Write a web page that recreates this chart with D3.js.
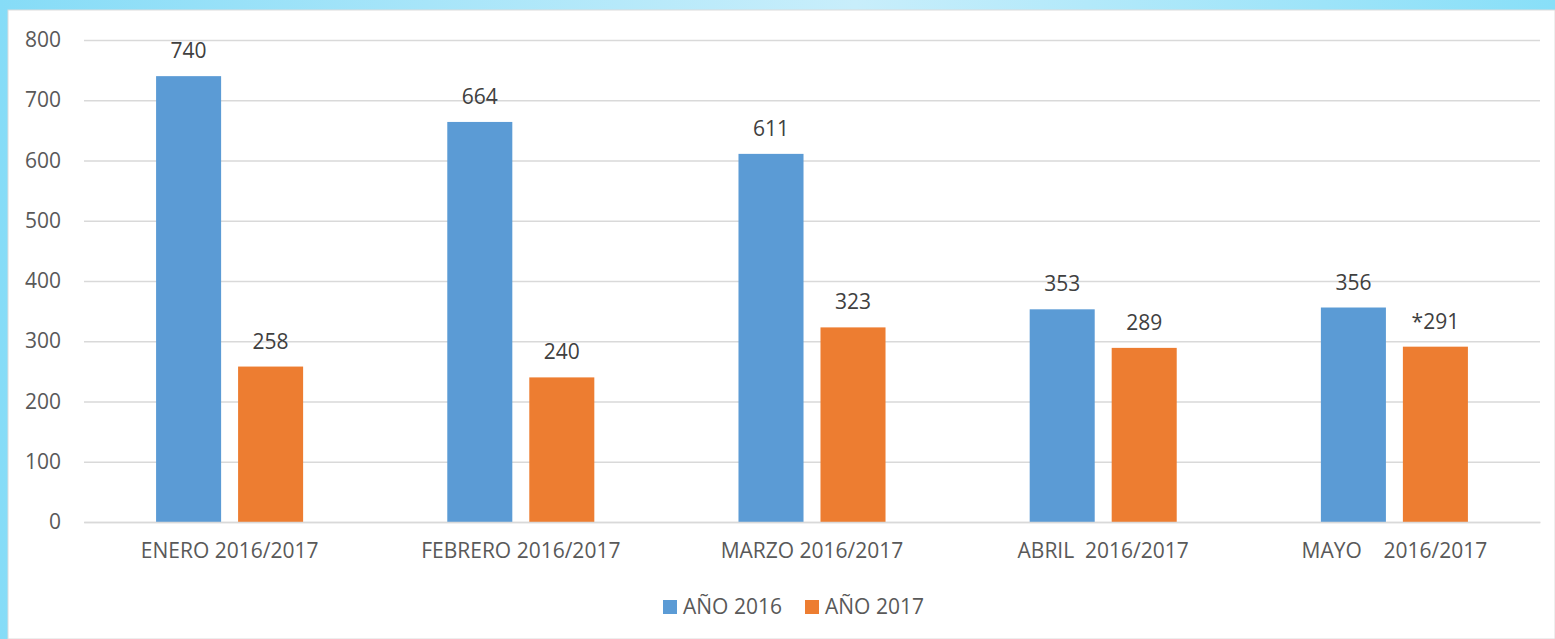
<!DOCTYPE html>
<html>
<head>
<meta charset="utf-8">
<script src="https://cdn.jsdelivr.net/npm/d3@7"></script>
<style>
  html, body { margin: 0; padding: 0; background: #fff; }
  svg { display: block; }
  text { font-family: "Open Sans", Lato, sans-serif; }
</style>
</head>
<body>
<div id="chart"></div>
<script>
(function () {
  const WIDTH  = 1555;
  const HEIGHT = 639;
  const MARGIN = { top: 40, right: 15, bottom: 117, left: 84 };
  const FONT   = "21px";

  const categories = ["ENERO 2016/2017", "FEBRERO 2016/2017", "MARZO 2016/2017", "ABRIL  2016/2017", "MAYO    2016/2017"];
  const seriesNames = ["AÑO 2016", "AÑO 2017"];
  const values2016 = [740, 664, 611, 353, 356];
  const values2017 = [258, 240, 323, 289, 291];
  const labels2016 = ["740", "664", "611", "353", "356"];
  const labels2017 = ["258", "240", "323", "289", "*291"];
  const yTicks = [0, 100, 200, 300, 400, 500, 600, 700, 800];
  const colors = ["#5b9bd5", "#ed7d31"];

  const rows = categories.map((c, i) => ({
    category: c,
    bars: [
      { key: seriesNames[0], value: values2016[i], label: labels2016[i] },
      { key: seriesNames[1], value: values2017[i], label: labels2017[i] }
    ]
  }));

  const svg = d3.select("#chart").append("svg")
    .attr("width", WIDTH)
    .attr("height", HEIGHT);

  // light blue frame behind the white card
  const grad = svg.append("defs").append("linearGradient")
    .attr("id", "frameGrad")
    .attr("x1", "0%").attr("x2", "100%");
  grad.append("stop").attr("offset", "0%").attr("stop-color", "#86dcf7");
  grad.append("stop").attr("offset", "55%").attr("stop-color", "#c8eefb");
  grad.append("stop").attr("offset", "100%").attr("stop-color", "#88dff8");

  svg.append("rect")
    .attr("width", WIDTH).attr("height", HEIGHT)
    .attr("fill", "url(#frameGrad)");
  svg.append("rect")
    .attr("x", 8).attr("y", 10)
    .attr("width", WIDTH - 8).attr("height", HEIGHT - 10)
    .attr("fill", "#fff")
    .attr("stroke", "#dcdcdc")
    .attr("stroke-width", 1);

  const x0 = d3.scaleBand()
    .domain(categories)
    .range([MARGIN.left, WIDTH - MARGIN.right]);

  const x1 = d3.scaleBand()
    .domain(seriesNames)
    .range([0, x0.bandwidth()])
    .paddingInner(0.207)
    .paddingOuter(0.879);

  const y = d3.scaleLinear()
    .domain([0, 800])
    .range([HEIGHT - MARGIN.bottom, MARGIN.top]);

  const color = d3.scaleOrdinal().domain(seriesNames).range(colors);

  // gridlines + y labels
  const yAxis = svg.append("g")
    .attr("transform", `translate(${MARGIN.left},0)`)
    .call(d3.axisLeft(y).tickValues(yTicks)
      .tickSize(-(WIDTH - MARGIN.left - MARGIN.right))
      .tickPadding(23));
  yAxis.select(".domain").remove();
  yAxis.selectAll(".tick line").attr("stroke", "#d9d9d9").attr("stroke-width", 1.5);
  yAxis.selectAll(".tick text")
    .attr("fill", "#595959")
    .attr("font-size", FONT);

  // bars
  const groups = svg.append("g").selectAll("g")
    .data(rows)
    .join("g")
    .attr("transform", d => `translate(${x0(d.category)},0)`);

  groups.selectAll("rect")
    .data(d => d.bars)
    .join("rect")
    .attr("x", d => x1(d.key))
    .attr("y", d => y(d.value))
    .attr("width", x1.bandwidth())
    .attr("height", d => y(0) - y(d.value))
    .attr("fill", d => color(d.key));

  groups.selectAll("text")
    .data(d => d.bars)
    .join("text")
    .attr("x", d => x1(d.key) + x1.bandwidth() / 2)
    .attr("y", d => y(d.value) - 18)
    .attr("text-anchor", "middle")
    .attr("font-size", FONT)
    .attr("fill", "#404040")
    .text(d => d.label);

  // x axis line + category labels
  const xAxis = svg.append("g")
    .attr("transform", `translate(0,${y(0)})`)
    .call(d3.axisBottom(x0).tickSize(0).tickPadding(21));
  xAxis.select(".domain").attr("stroke", "#d9d9d9").attr("stroke-width", 1.5);
  xAxis.selectAll(".tick text")
    .attr("fill", "#595959")
    .attr("font-size", FONT)
    .style("white-space", "pre");

  // legend
  const legend = svg.append("g").attr("transform", "translate(663,600)");
  const legendOffsets = [0, 142];
  seriesNames.forEach((name, i) => {
    const g = legend.append("g").attr("transform", `translate(${legendOffsets[i]},0)`);
    g.append("rect")
      .attr("width", 14).attr("height", 14)
      .attr("fill", color(name));
    g.append("text")
      .attr("x", 20).attr("y", 14)
      .attr("font-size", FONT)
      .attr("fill", "#595959")
      .text(name);
  });
})();
</script>
</body>
</html>
